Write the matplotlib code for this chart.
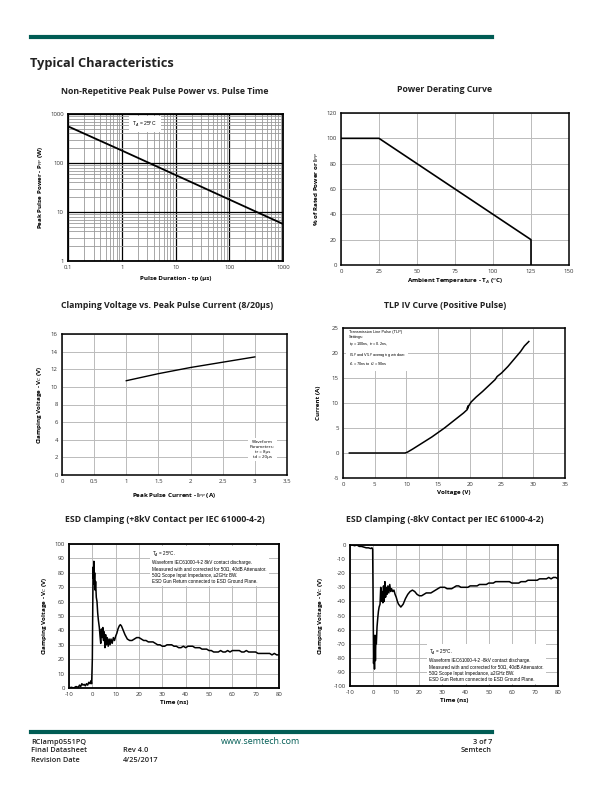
import matplotlib
matplotlib.use("Agg")
import matplotlib.pyplot as plt
from matplotlib.ticker import FixedLocator, NullFormatter, LogLocator

plt.rcParams['font.family'] = ['Open Sans', 'DejaVu Sans']
plt.rcParams['axes.unicode_minus'] = False

# ---------------- data ----------------
# Chart 1: Peak pulse power vs pulse time
tp_us = [0.1, 1, 10, 100, 1000]
ppp_w = [560, 180, 57, 18, 5.7]

# Chart 2: power derating
temp_c = [0, 25, 125, 125]
rated_pct = [100, 100, 20, 0]

# Chart 3: clamping voltage vs peak pulse current
ipp_a = [1.0, 1.5, 2.0, 2.5, 3.0]
vc_v = [10.7, 11.5, 12.2, 12.8, 13.4]

# Chart 4: TLP IV curve
tlp_v = [1, 5, 9.8, 10.2, 11, 12, 13, 14, 15, 16, 17, 18, 19, 19.6, 19.7, 19.6, 19.9, 20.2,
         21, 22, 23, 24, 24.3, 25, 26, 27, 28, 28.6, 29.3]
tlp_i = [0, 0, 0, 0.2, 0.8, 1.6, 2.4, 3.2, 4.1, 5.0, 6.0, 7.0, 8.0, 8.7, 9.4, 8.9, 9.6, 10.2,
         11.2, 12.3, 13.5, 14.7, 15.3, 16.0, 17.3, 18.8, 20.3, 21.4, 22.3]

# Chart 5: ESD clamping +8kV
esd_pos_t = [-10, -9, -8, -7, -6, -5.5, -5, -4.5, -4, -3.5, -3, -2.5, -2, -1.5, -1, -0.6, -0.3, 0,
             0.2, 0.35, 0.5, 0.65, 0.8, 1.0, 1.2, 1.4, 1.7, 2.0, 2.3, 2.6, 3.0, 3.3, 3.6, 3.9,
             4.2, 4.5, 4.8, 5.1, 5.4, 5.7, 6.0, 6.4, 6.8, 7.2, 7.6, 8.0, 8.5, 9.0, 9.5, 10, 10.5,
             11, 11.5, 12, 12.5, 13, 13.5, 14, 15, 16, 17, 18, 19, 20, 21, 22, 23, 24, 25, 26,
             27, 28, 29, 30, 31, 32, 33, 34, 35, 36, 37, 38, 39, 40, 41, 42, 43, 44, 45, 46, 47,
             48, 49, 50, 51, 52, 53, 54, 55, 56, 57, 58, 59, 60, 61, 62, 63, 64, 65, 66, 67, 68,
             69, 70, 71, 72, 73, 74, 75, 76, 77, 78, 79, 80]
esd_pos_v = [0, 0.5, 0, 1, 0.5, 2, 1, 3, 2, 2.5, 1.5, 3, 2, 4, 3, 5, 3, 20,
             60, 84, 76, 88, 72, 80, 68, 74, 63, 60, 52, 47, 42, 36, 31, 41, 35, 42, 33, 39, 28,
             37, 30, 35, 29, 34, 30, 34, 31, 35, 33, 36, 38,
             41, 43, 44, 43, 41, 39, 37, 34, 33, 33, 34, 35, 35, 34, 33, 33, 32, 32, 32,
             31, 30, 30, 29, 29, 30, 30, 30, 29, 29, 28, 28, 29, 28, 29, 29, 29, 28, 28, 28, 27,
             27, 27, 26, 26, 25, 25, 25, 26, 25, 25, 26, 25, 26, 26, 26, 26, 25, 25, 26, 25, 25,
             25, 25, 24, 24, 24, 24, 24, 24, 23, 24, 23, 23]

# Chart 6: ESD clamping -8kV
esd_neg_t = [-10, -9, -8, -7, -6, -5, -4, -3, -2, -1, -0.5, -0.2, 0, 0.2, 0.4, 0.6, 0.8, 1.0,
             1.2, 1.4, 1.7, 2.0, 2.3, 2.6, 3.0, 3.3, 3.6, 3.9, 4.2, 4.5, 4.8, 5.1, 5.4, 5.7, 6.0,
             6.4, 6.8, 7.2, 7.6, 8.0, 8.5, 9.0, 9.5, 10, 10.5, 11, 11.5, 12, 12.5, 13, 13.5, 14,
             15, 16, 17, 18, 19, 20, 21, 22, 23, 24, 25, 26, 27, 28, 29, 30, 31, 32, 33, 34, 35,
             36, 37, 38, 39, 40, 41, 42, 43, 44, 45, 46, 47, 48, 49, 50, 51, 52, 53, 54, 55, 56,
             57, 58, 59, 60, 61, 62, 63, 64, 65, 66, 67, 68, 69, 70, 71, 72, 73, 74, 75, 76, 77,
             78, 79, 80]
esd_neg_v = [0, 0, -0.5, 0, -1, -1, -1.5, -2, -2, -2.5, -2, -3, -40, -84, -72, -88, -64, -82,
             -66, -70, -58, -52, -47, -44, -42, -30, -40, -33, -41, -29, -40, -26, -37, -30, -35,
             -29, -34, -28, -33, -31, -33, -32, -35, -37, -40, -42, -43, -44, -43, -42, -40, -38,
             -35, -33, -32, -33, -35, -36, -36, -35, -34, -34, -34, -33, -32, -31, -30, -30, -30,
             -31, -31, -31, -30, -29, -29, -30, -30, -30, -30, -29, -29, -29, -29, -28, -28, -28,
             -28, -27, -27, -27, -26, -26, -26, -26, -26, -26, -26, -27, -27, -27, -27, -26, -26,
             -26, -25, -25, -25, -25, -25, -24, -24, -24, -24, -23, -24, -23, -23, -24]

GREEN = '#005c54'
W, H = 612, 792

fig = plt.figure(figsize=(W / 100, H / 100), dpi=100)


def px_axes(x0, y0, x1, y1):
    return fig.add_axes([x0 / W, 1 - y1 / H, (x1 - x0) / W, (y1 - y0) / H])


def ftext(x, y, s, **kw):
    fig.text(x / W, 1 - y / H, s, **kw)


# header
fig.add_artist(plt.Line2D([31 / W, 492 / W], [1 - 37 / H, 1 - 37 / H], color=GREEN, lw=3))
ftext(30, 63, 'Typical Characteristics', fontsize=9.2, fontweight='bold', va='center', ha='left',
      color='#222222')

TICK_FS = 4.3
LAB_FS = 4.5
TITLE_FS = 6.3


def style(ax, spine_lw=1.3):
    for s in ax.spines.values():
        s.set_linewidth(spine_lw)
        s.set_color('black')
    ax.tick_params(length=0, labelsize=TICK_FS, pad=3, colors='#333333')
    ax.set_axisbelow(True)


def title(xc, y, s):
    ftext(xc, y, s, fontsize=TITLE_FS, fontweight='bold', ha='center', va='center', color='#222222')


# ---------- Chart 1 ----------
ax1 = px_axes(68, 114, 283, 261)
ax1.set_xscale('log')
ax1.set_yscale('log')
ax1.set_xlim(0.1, 1000)
ax1.set_ylim(1, 1000)
ax1.plot(tp_us, ppp_w, color='black', lw=1.3)
ax1.xaxis.set_major_locator(FixedLocator([0.1, 1, 10, 100, 1000]))
ax1.yaxis.set_major_locator(FixedLocator([1, 10, 100, 1000]))
ax1.set_xticklabels(['0.1', '1', '10', '100', '1000'])
ax1.set_yticklabels(['1', '10', '100', '1000'])
ax1.xaxis.set_minor_locator(LogLocator(base=10, subs=range(2, 10)))
ax1.yaxis.set_minor_locator(LogLocator(base=10, subs=range(2, 10)))
ax1.xaxis.set_minor_formatter(NullFormatter())
ax1.yaxis.set_minor_formatter(NullFormatter())
ax1.grid(True, which='minor', color='#9a9a9a', lw=0.6)
ax1.grid(True, which='major', color='black', lw=0.9)
style(ax1)
ax1.tick_params(which='minor', length=0)
ax1.text(0.3, 0.93, r'T$_A$ = 25$^o$C', transform=ax1.transAxes, fontsize=3.6,
         va='center', ha='left', family='Liberation Sans',
         bbox=dict(facecolor='white', edgecolor='none', pad=2.5))
ax1.set_xlabel('Pulse Duration - tp (µs)', fontsize=LAB_FS, fontweight='bold', labelpad=4)
ax1.set_ylabel('Peak Pulse Power - P$_{PP}$ (W)', fontsize=LAB_FS, fontweight='bold', labelpad=4)
title(165, 91, 'Non-Repetitive Peak Pulse Power vs. Pulse Time')

# ---------- Chart 2 ----------
ax2 = px_axes(341, 113, 569, 265)
ax2.plot(temp_c, rated_pct, color='black', lw=1.2)
ax2.set_xlim(0, 150)
ax2.set_ylim(0, 120)
ax2.set_xticks([0, 25, 50, 75, 100, 125, 150])
ax2.set_yticks([0, 20, 40, 60, 80, 100, 120])
ax2.grid(True, color='#bbbbbb', lw=0.7)
style(ax2, 1.1)
ax2.set_xlabel('Ambient Temperature - T$_A$ ($^o$C)', fontsize=LAB_FS, fontweight='bold', labelpad=2)
ax2.set_ylabel('% of Rated Power or I$_{PP}$', fontsize=LAB_FS, fontweight='bold', labelpad=4)
title(445, 90, 'Power Derating Curve')

# ---------- Chart 3 ----------
ax3 = px_axes(62, 334, 287, 475)
ax3.plot(ipp_a, vc_v, color='black', lw=1.0)
ax3.set_xlim(0, 3.5)
ax3.set_ylim(0, 16)
ax3.set_xticks([0, 0.5, 1, 1.5, 2, 2.5, 3, 3.5])
ax3.set_xticklabels(['0', '0.5', '1', '1.5', '2', '2.5', '3', '3.5'])
ax3.set_yticks(range(0, 17, 2))
ax3.grid(True, color='#bbbbbb', lw=0.7)
style(ax3, 1.1)
ax3.text(0.89, 0.18, 'Waveform\nParameters:\ntr = 8µs\ntd = 20µs', transform=ax3.transAxes,
         fontsize=3.2, ha='center', va='center', linespacing=1.3,
         bbox=dict(facecolor='white', edgecolor='none', pad=1.5))
ax3.set_xlabel('Peak Pulse Current - I$_{PP}$ (A)', fontsize=LAB_FS, fontweight='bold', labelpad=5)
ax3.set_ylabel('Clamping Voltage - V$_C$ (V)', fontsize=LAB_FS, fontweight='bold', labelpad=5)
title(167, 305, 'Clamping Voltage vs. Peak Pulse Current (8/20µs)')

# ---------- Chart 4 ----------
ax4 = px_axes(343, 328, 565, 478)
ax4.plot(tlp_v, tlp_i, color='black', lw=1.1)
ax4.set_xlim(0, 35)
ax4.set_ylim(-5, 25)
ax4.set_xticks(range(0, 36, 5))
ax4.set_yticks(range(-5, 26, 5))
ax4.grid(True, color='#bbbbbb', lw=0.7)
style(ax4, 1.1)
ax4.text(0.025, 0.86, 'Transmission Line Pulse (TLP)\nSettings:\nt$_p$ = 100ns, t$_r$ = 0.2ns,\n'
         'I$_{TLP}$ and V$_{TLP}$ averaging window:\nt$_1$ = 70ns to t$_2$ = 90ns',
         transform=ax4.transAxes, fontsize=2.8, ha='left', va='center', linespacing=1.35,
         family='Liberation Sans',
         bbox=dict(facecolor='white', edgecolor='none', pad=1.5))
ax4.set_xlabel('Voltage (V)', fontsize=LAB_FS, fontweight='bold', labelpad=2)
ax4.set_ylabel('Current (A)', fontsize=LAB_FS, fontweight='bold', labelpad=8)
title(445, 305, 'TLP IV Curve (Positive Pulse)')

# ---------- Chart 5 ----------
ax5 = px_axes(69, 544, 279, 688)
ax5.plot(esd_pos_t, esd_pos_v, color='black', lw=1.1)
ax5.set_xlim(-10, 80)
ax5.set_ylim(0, 100)
ax5.set_xticks(range(-10, 81, 10))
ax5.set_yticks(range(0, 101, 10))
ax5.grid(True, color='#bbbbbb', lw=0.7)
style(ax5, 1.3)
ax5.text(0.395, 0.84, 'T$_A$ = 25$^o$C.\nWaveform IEC61000-4-2 8kV contact discharge.\n'
         'Measured with and corrected for 50Ω, 40dB Attenuator.\n'
         '50Ω Scope Input Impedance, ≥2GHz BW.\nESD Gun Return connected to ESD Ground Plane.',
         transform=ax5.transAxes, fontsize=3.3, ha='left', va='center', linespacing=1.3,
         family='Liberation Sans',
         bbox=dict(facecolor='white', edgecolor='none', pad=1.5))
ax5.set_xlabel('Time (ns)', fontsize=LAB_FS, fontweight='bold', labelpad=2)
ax5.set_ylabel('Clamping Voltage - V$_C$ (V)', fontsize=LAB_FS, fontweight='bold', labelpad=4)
title(165, 520, 'ESD Clamping (+8kV Contact per IEC 61000-4-2)')

# ---------- Chart 6 ----------
ax6 = px_axes(350, 545, 558, 686)
ax6.plot(esd_neg_t, esd_neg_v, color='black', lw=1.1)
ax6.set_xlim(-10, 80)
ax6.set_ylim(-100, 0)
ax6.set_xticks(range(-10, 81, 10))
ax6.set_yticks(range(-100, 1, 10))
ax6.grid(True, color='#bbbbbb', lw=0.7)
style(ax6, 1.3)
ax6.text(0.38, 0.15, 'T$_A$ = 25$^o$C.\nWaveform IEC61000-4-2 -8kV contact discharge.\n'
         'Measured with and corrected for 50Ω, 40dB Attenuator.\n'
         '50Ω Scope Input Impedance, ≥2GHz BW.\nESD Gun Return connected to ESD Ground Plane.',
         transform=ax6.transAxes, fontsize=3.3, ha='left', va='center', linespacing=1.3,
         family='Liberation Sans',
         bbox=dict(facecolor='white', edgecolor='none', pad=1.5))
ax6.set_xlabel('Time (ns)', fontsize=LAB_FS, fontweight='bold', labelpad=2)
ax6.set_ylabel('Clamping Voltage - V$_C$ (V)', fontsize=LAB_FS, fontweight='bold', labelpad=6)
title(445, 520, 'ESD Clamping (-8kV Contact per IEC 61000-4-2)')

# footer
fig.add_artist(plt.Line2D([31 / W, 492 / W], [1 - 732 / H, 1 - 732 / H], color=GREEN, lw=3))
FOOT = dict(fontsize=5.3, fontweight='semibold', va='center', color='#222222')
ftext(31, 742, 'RClamp0551PQ', ha='left', **FOOT)
ftext(31, 751, 'Final Datasheet', ha='left', **FOOT)
ftext(31, 761, 'Revision Date', ha='left', **FOOT)
ftext(123, 751, 'Rev 4.0', ha='left', **FOOT)
ftext(123, 761, '4/25/2017', ha='left', **FOOT)
ftext(492, 742, '3 of 7', ha='right', **FOOT)
ftext(492, 751, 'Semtech', ha='right', **FOOT)
ftext(261, 741, 'www.semtech.com', ha='center', va='center', fontsize=6.5, color=GREEN)

fig.savefig('out.png', dpi=100)
